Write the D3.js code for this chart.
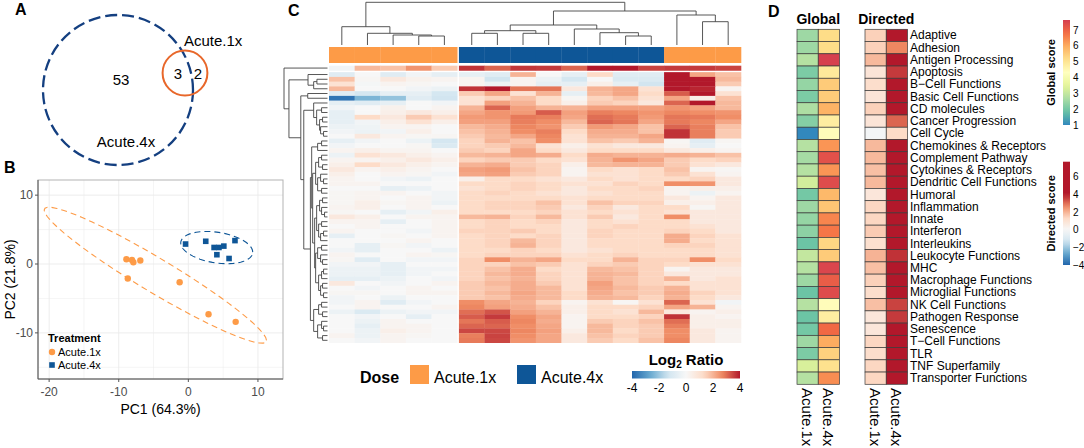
<!DOCTYPE html>
<html>
<head>
<meta charset="utf-8">
<script src="https://cdn.jsdelivr.net/npm/d3@7"></script>
<style>
  body { margin: 0; background: #fff; }
  text { font-family: "Liberation Sans", Arial, sans-serif; }
</style>
</head>
<body>
<svg id="fig" width="1084" height="448"></svg>
<script>
// ---------- data ----------
// A: venn counts
const vennOnly4x = 53, vennBoth = 3, vennOnly1x = 2;

// B: PCA scores
const pc1Acute1x = [-8.9, -8.1, -7.9, -6.9, -8.7, -1.25, 2.9, 6.8];
const pc2Acute1x = [0.7, 0.6, 0.25, 0.5, -2.1, -2.65, -7.3, -8.4];
const pc1Acute4x = [-0.4, 2.5, 3.7, 4.4, 5.1, 4.1, 5.85, 6.7];
const pc2Acute4x = [2.9, 3.3, 2.4, 2.4, 2.6, 1.35, 0.8, 3.4];
const pcTicks = [-20, -10, 0, 10];
const pc2Ticks = [-10, 0, 10];

// C: heatmap (rows = genes in dendrogram order, cols = samples in dendrogram order)
const sampleDose = ["Acute.1x","Acute.1x","Acute.1x","Acute.1x","Acute.1x",
  "Acute.4x","Acute.4x","Acute.4x","Acute.4x","Acute.4x","Acute.4x","Acute.4x","Acute.4x",
  "Acute.1x","Acute.1x","Acute.1x"];
const log2Ratio = [
  [-0.2,1.9,1.75,2.5,1.6,3.7,3.1,3.65,3.6,3.1,4.3,4.3,3.5,3.6,3.6,3.5],
  [-0.8,0.0,-0.8,-0.2,-0.6,-0.6,-0.8,2.0,0.0,-0.6,1.3,-0.8,-0.8,4.5,2.2,1.75],
  [1.75,0.1,0.7,0.3,0.2,0.2,-1.3,0.2,-0.4,-1.2,0.0,-1.0,-1.0,4.5,4.4,1.9],
  [1.0,-0.1,0.2,0.1,0.0,0.2,-0.4,0.2,-0.6,-0.6,0.4,-0.6,-1.3,4.5,4.4,1.6],
  [1.9,0.0,0.0,-0.2,-0.4,3.7,4.05,2.9,2.9,0.7,2.0,2.2,1.0,4.4,3.85,0.2],
  [-0.8,-1.2,-0.6,-0.6,-1.2,1.6,2.2,1.0,2.0,-0.6,1.9,2.2,1.3,3.2,4.0,1.0],
  [-3.7,-2.4,-2.1,-0.8,-1.3,1.0,1.45,1.75,1.3,0.1,1.45,1.75,1.0,2.2,0.4,1.75],
  [-0.6,-0.8,-0.6,0.0,-0.2,1.0,2.3,2.0,1.3,0.4,1.6,1.45,0.7,3.1,4.4,1.9],
  [-0.2,0.0,0.3,0.0,0.2,2.0,3.1,2.3,2.0,2.0,2.3,2.3,2.3,2.5,2.3,1.9],
  [-0.6,0.0,0.4,0.7,0.4,2.2,2.5,2.4,3.2,2.3,2.8,2.7,2.5,2.7,2.6,2.5],
  [-0.6,1.3,0.7,1.6,1.0,2.4,2.5,2.85,2.8,2.2,3.0,2.85,2.4,2.9,2.85,2.6],
  [-0.6,-0.2,0.4,1.0,0.4,2.3,2.3,2.8,2.6,1.9,3.1,2.9,2.2,2.85,2.7,2.2],
  [-0.4,-0.3,0.2,0.2,0.0,1.9,2.1,2.7,2.5,1.6,2.4,2.2,1.75,3.1,2.8,1.75],
  [-0.2,-0.4,-0.2,0.4,0.0,1.75,2.0,2.6,2.8,1.3,2.1,2.1,1.75,3.7,2.8,1.6],
  [0.0,0.7,0.2,0.1,0.1,1.6,1.9,2.2,2.7,1.0,2.0,2.0,2.2,3.7,2.8,1.6],
  [-0.6,-0.2,0.0,-0.4,-1.2,1.45,2.0,1.75,2.6,1.0,1.75,1.6,2.0,0.1,-0.8,0.1],
  [-0.2,0.0,0.0,0.1,-1.0,1.45,1.6,1.9,1.0,0.4,1.0,0.7,0.7,0.2,-0.6,0.0],
  [0.2,0.4,0.2,0.2,0.0,1.6,1.45,2.2,1.3,0.7,1.3,1.3,1.3,0.7,0.4,0.2],
  [-0.4,1.0,0.7,0.4,0.2,1.9,2.0,2.2,2.1,1.3,2.1,2.0,2.0,2.1,2.0,1.75],
  [0.2,0.2,0.4,0.7,0.4,1.45,1.6,1.6,1.3,1.0,2.0,2.5,2.2,1.6,1.3,1.45],
  [0.4,1.3,0.7,0.4,0.2,2.0,2.1,1.6,1.45,0.4,1.9,2.0,2.0,1.6,1.0,0.7],
  [0.7,0.2,0.4,0.2,0.0,2.3,2.4,1.75,1.45,0.2,1.3,1.0,1.3,1.75,0.2,0.1],
  [0.4,0.0,0.2,0.1,-0.2,2.2,2.3,1.6,1.45,0.2,1.0,1.0,1.3,1.6,1.0,0.2],
  [0.2,0.0,-0.2,-0.4,0.0,0.4,1.3,1.3,1.0,0.7,1.3,1.0,1.3,1.3,1.45,0.7],
  [0.2,0.2,0.0,0.0,0.0,1.3,1.3,1.45,1.3,1.0,1.0,1.45,1.3,2.6,2.5,0.7],
  [0.0,0.0,-0.6,-0.4,0.0,1.0,1.3,1.45,1.3,0.7,1.3,1.3,1.45,0.2,0.4,0.4],
  [0.1,0.2,0.2,0.0,-0.2,1.3,1.45,1.3,1.0,0.7,1.0,1.3,1.3,0.2,-0.4,0.2],
  [0.1,0.2,0.0,0.2,-0.2,1.3,1.3,1.3,1.3,1.0,1.3,1.3,1.3,0.7,0.2,0.7],
  [0.1,0.4,0.1,0.2,-0.4,1.3,1.45,1.45,1.75,1.0,1.75,1.45,1.45,0.4,0.4,0.7],
  [0.2,0.4,0.0,0.2,0.0,1.3,1.45,1.45,1.6,0.7,1.45,0.7,1.3,1.3,0.1,0.7],
  [0.1,0.0,-0.6,-0.2,0.4,1.3,1.3,1.3,1.45,1.0,1.3,1.0,1.3,1.0,0.7,0.7],
  [0.7,0.4,0.0,0.2,0.2,1.9,2.0,1.45,1.9,1.0,1.6,0.7,1.3,2.6,0.7,0.7],
  [0.2,0.2,-0.6,0.0,0.2,1.3,1.45,1.3,1.45,0.7,1.3,1.0,1.3,1.3,0.7,0.7],
  [0.0,0.2,0.0,0.0,0.2,1.3,1.45,1.3,1.3,0.7,1.3,1.45,1.3,1.3,1.0,0.7],
  [0.2,0.0,0.0,-0.2,0.2,1.45,1.45,1.6,1.3,0.7,1.45,1.3,1.3,1.45,1.3,0.7],
  [-0.6,0.0,0.1,0.0,0.2,1.3,1.45,1.3,1.45,0.7,1.45,1.3,1.3,2.1,1.45,1.0],
  [0.0,0.0,0.0,0.2,0.0,1.3,1.45,1.9,1.45,0.7,1.3,1.3,1.3,2.1,1.3,1.0],
  [0.0,-0.6,0.1,-0.2,0.0,1.3,1.45,2.0,1.45,0.7,1.3,1.3,1.3,1.45,1.45,1.0],
  [-0.2,-0.6,0.0,0.0,-0.4,1.3,1.3,1.45,1.3,0.7,1.0,1.3,1.3,1.3,1.3,1.0],
  [0.2,0.0,0.0,0.2,0.1,1.3,1.45,1.45,1.45,1.0,1.3,1.45,1.3,1.3,1.3,1.0],
  [0.1,-0.8,0.0,-0.2,-0.2,1.45,2.6,2.0,2.2,1.3,1.3,2.0,1.45,1.45,2.6,1.3],
  [-0.2,-0.2,-0.6,0.0,0.0,1.45,1.45,1.75,1.6,1.0,1.45,1.6,1.45,1.3,1.0,1.0],
  [-0.4,-0.4,-0.6,-0.2,-0.2,1.45,1.75,2.1,1.3,1.0,1.9,1.75,1.45,0.2,0.7,0.7],
  [-0.4,-0.4,-0.6,-0.2,0.0,1.45,1.9,2.1,1.45,1.0,2.0,1.9,1.45,0.7,0.7,0.7],
  [-0.6,-0.6,-0.4,0.0,-0.2,1.45,1.75,2.0,1.45,1.0,2.0,1.75,1.45,2.0,0.7,1.0],
  [0.7,0.0,-0.2,0.0,0.2,1.6,1.9,2.1,1.6,1.0,2.3,1.75,1.45,1.3,1.0,1.0],
  [0.0,-0.2,0.0,0.2,0.0,1.6,1.75,2.1,1.9,1.0,2.2,1.9,1.6,2.0,1.0,1.0],
  [0.1,0.1,0.0,0.2,0.2,1.6,1.9,2.2,1.9,1.3,2.1,1.75,1.6,2.1,1.45,1.0],
  [-0.2,0.0,-0.4,0.0,0.0,1.6,1.75,2.1,1.9,1.3,2.0,1.9,1.45,2.0,1.3,0.7],
  [-0.2,0.2,-0.8,-0.2,0.0,2.6,2.2,2.0,1.45,0.2,1.0,0.1,1.0,3.1,1.0,-0.2],
  [0.0,0.2,0.0,0.0,0.2,2.7,2.3,2.1,1.75,0.4,1.3,1.3,1.45,2.2,2.0,0.2],
  [-0.4,-1.0,-0.4,-0.2,-0.2,3.0,3.3,2.3,2.0,0.4,1.3,1.0,1.9,0.7,0.2,0.4],
  [0.0,-0.2,0.0,-0.6,0.0,3.2,3.6,2.6,2.2,0.2,1.3,1.3,1.45,3.7,0.4,0.2],
  [0.0,-0.4,0.2,0.0,0.0,2.9,3.2,2.7,2.1,0.2,1.6,1.45,1.75,3.0,0.4,0.4],
  [0.0,-0.6,0.2,0.2,0.0,3.1,3.1,2.6,2.2,0.2,1.9,1.45,1.6,2.8,0.4,0.4],
  [0.0,-0.4,0.4,0.2,0.0,3.45,3.45,2.7,2.3,0.4,1.9,1.3,1.6,2.6,0.7,0.2],
  [0.2,-0.4,0.2,0.1,0.0,2.8,3.5,2.6,2.2,0.7,1.75,1.45,1.6,2.6,0.7,0.2],
  [0.0,-0.2,0.2,0.0,0.0,2.85,3.45,2.5,2.2,0.7,1.6,1.3,1.75,2.7,0.7,0.2]
];
const ratioTicks = [-4, -2, 0, 2, 4];

// C: dendrograms, node = [height, left, right], leaf = index
const colTree = [42.7,
  [18.3, 0, [11.7, 1, [10, 2, [9, 3, 4]]]],
  [34,
    [20, [14.3, [11.7, 5, 6], [11.7, 7, 8]], [16, 9, [12.3, 10, [9, 11, 12]]]],
    [30, 13, [23.3, 14, 15]]]];

const rowGroupA = [14, 7, [11, [6, 8, 9], [8, [5, 10, 11], [7, 12, [4, 13, 14]]]]];
const rowGroupB = [12, [9, [6, 18, 19], [5, 20, 21]], [10, [7, 22, [4, 23, 24]], [6, 25, 26]]];
const rowGroupC = [11, [8, [5, 27, 28], [6, 29, [3, 30, 31]]], [9, [6, 32, 33], [7, [4, 34, 35], 36]]];
const rowGroupD = [12, [10, [6, 37, 38], [7, 39, [5, 40, 41]]], [9, [6, [4, 42, 43], 44], [7, [5, 45, 46], [4, 47, 48]]]];
const rowGroupE = [14, [9, [6, 49, 50], [5, 51, 52]], [10, [6, 53, [4, 54, 55]], [5, 56, 57]]];
const rowTree = [44, 0,
  [39,
    [19.7, 1, [14, [10.7, 2, 3], 4]],
    [27,
      [20, 5, 6],
      [24, rowGroupA,
        [17.3,
          [16, [10, [6, 15, 16], 17], [15, rowGroupB, [13, rowGroupC, rowGroupD]]],
          rowGroupE]]]]];

// D: pathway scores
const pathways = ["Adaptive","Adhesion","Antigen Processing","Apoptosis","B\u2212Cell Functions",
  "Basic Cell Functions","CD molecules","Cancer Progression","Cell Cycle","Chemokines & Receptors",
  "Complement Pathway","Cytokines & Receptors","Dendritic Cell Functions","Humoral","Inflammation",
  "Innate","Interferon","Interleukins","Leukocyte Functions","MHC","Macrophage Functions",
  "Microglial Functions","NK Cell Functions","Pathogen Response","Senescence","T\u2212Cell Functions",
  "TLR","TNF Superfamily","Transporter Functions"];
const globalAcute1x = [2.5,2.5,2.8,2.1,2.4,2.1,2.7,2.2,1.0,2.8,2.6,2.8,3.2,2.0,2.5,2.4,2.3,1.9,3.0,2.8,2.5,1.9,2.8,1.9,2.0,2.5,2.1,3.3,2.8];
const globalAcute4x = [5.2,5.2,7.6,4.9,5.5,5.5,5.9,4.8,4.4,6.3,7.3,6.3,7.4,5.8,5.6,6.5,6.7,5.3,5.5,7.5,7.1,7.4,4.4,4.8,6.9,6.0,5.4,5.1,6.4];
const directedAcute1x = [1.5,1.5,1.9,0.9,1.2,0.9,1.5,0.9,-0.15,1.9,1.9,1.8,1.9,0.8,1.4,1.4,1.6,1.1,2.0,1.8,1.5,1.2,1.8,0.8,0.8,1.4,1.2,1.4,1.4];
const directedAcute4x = [6.8,2.7,7.1,3.6,6.6,6.9,6.7,3.1,1.3,7.0,6.9,6.8,7.2,6.5,6.8,6.9,6.7,6.6,3.7,7.3,6.9,7.0,3.5,3.6,6.8,6.9,6.7,6.6,6.8];
const dColumns = ["Acute.1x", "Acute.4x"];
const globalTicks = [1, 2, 3, 4, 5, 6, 7];
const directedTicks = [-4, -2, 0, 2, 4, 6];

// ---------- setup ----------
const svg = d3.select("#fig");
const orange = "#fd9b47", blue = "#0e5697";
const doseColor = d => d === "Acute.1x" ? orange : blue;
const rdbu7 = ["#2166AC","#67A9CF","#D1E5F0","#F7F7F7","#FDDBC7","#EF8A62","#B2182B"];
const defs = svg.append("defs");

function panelLabel(t, x, y) {
  svg.append("text").attr("x", x).attr("y", y).text(t)
    .attr("font-size", 16).attr("font-weight", "bold");
}
panelLabel("A", 15, 15);
panelLabel("B", 4, 173);
panelLabel("C", 288, 16);
panelLabel("D", 768, 17);

// ---------- A: venn ----------
const gA = svg.append("g");
const rVenn = d3.scaleSqrt().domain([0, vennOnly4x + vennBoth]).range([0, 75]);
gA.append("circle").attr("cx", 118).attr("cy", 90).attr("r", rVenn(vennOnly4x + vennBoth))
  .attr("fill", "none").attr("stroke", "#143f80").attr("stroke-width", 2.3)
  .attr("stroke-dasharray", "12,5");
gA.append("circle").attr("cx", 185).attr("cy", 73).attr("r", rVenn(vennOnly1x + vennBoth))
  .attr("fill", "none").attr("stroke", "#e8672a").attr("stroke-width", 2);
[[vennOnly4x, 121, 79], [vennBoth, 178, 73], [vennOnly1x, 198, 73]].forEach(d => {
  gA.append("text").attr("x", d[1]).attr("y", d[2]).text(d[0])
    .attr("text-anchor", "middle").attr("dominant-baseline", "central").attr("font-size", 15);
});
gA.append("text").attr("x", 184).attr("y", 46).text("Acute.1x").attr("font-size", 15);
gA.append("text").attr("x", 126).attr("y", 147).text("Acute.4x").attr("font-size", 15)
  .attr("text-anchor", "middle");

// ---------- B: PCA ----------
const bL = 38, bR = 283, bT = 180, bB = 379;
const xB = d3.scaleLinear().domain([-21.6, 13.6]).range([bL, bR]);
const yB = d3.scaleLinear().domain([-16.7, 12.2]).range([bB, bT]);
const gB = svg.append("g");
gB.append("rect").attr("x", bL).attr("y", bT).attr("width", bR - bL).attr("height", bB - bT)
  .attr("fill", "#fff");
d3.range(-20, 15, 5).forEach(v => {
  gB.append("line").attr("x1", xB(v)).attr("x2", xB(v)).attr("y1", bT).attr("y2", bB)
    .attr("stroke", "#ebebeb").attr("stroke-width", v % 10 === 0 ? 0.9 : 0.5);
});
d3.range(-15, 15, 5).forEach(v => {
  gB.append("line").attr("y1", yB(v)).attr("y2", yB(v)).attr("x1", bL).attr("x2", bR)
    .attr("stroke", "#ebebeb").attr("stroke-width", v % 10 === 0 ? 0.9 : 0.5);
});
gB.append("rect").attr("x", bL).attr("y", bT).attr("width", bR - bL).attr("height", bB - bT)
  .attr("fill", "none").attr("stroke", "#b3b3b3");
gB.append("line").attr("x1", bL).attr("x2", bL).attr("y1", bT).attr("y2", bB).attr("stroke", "#555");
gB.append("line").attr("x1", bL).attr("x2", bR).attr("y1", bB).attr("y2", bB).attr("stroke", "#555");
pcTicks.forEach(v => {
  gB.append("line").attr("x1", xB(v)).attr("x2", xB(v)).attr("y1", bB).attr("y2", bB + 3).attr("stroke", "#555");
  gB.append("text").attr("x", xB(v)).attr("y", bB + 17).text(v).attr("text-anchor", "middle")
    .attr("font-size", 12).attr("fill", "#4d4d4d");
});
pc2Ticks.forEach(v => {
  gB.append("line").attr("x1", bL - 3).attr("x2", bL).attr("y1", yB(v)).attr("y2", yB(v)).attr("stroke", "#555");
  gB.append("text").attr("x", bL - 5).attr("y", yB(v)).text(v).attr("text-anchor", "end")
    .attr("dominant-baseline", "central").attr("font-size", 12).attr("fill", "#4d4d4d");
});
gB.append("text").attr("x", (bL + bR) / 2).attr("y", 414).text("PC1 (64.3%)")
  .attr("text-anchor", "middle").attr("font-size", 14);
gB.append("text").attr("transform", `translate(15,${(bT + bB) / 2}) rotate(-90)`).text("PC2 (21.8%)")
  .attr("text-anchor", "middle").attr("font-size", 14);

// robust t covariance (MASS::cov.trob) as used by stat_ellipse
function covTrob(pts) {
  const n = pts.length, p = 2, nu = 5;
  let loc = [d3.mean(pts, d => d[0]), d3.mean(pts, d => d[1])];
  let w = pts.map(() => 1), X;
  for (let it = 0; it < 25; it++) {
    const w0 = w.slice();
    X = pts.map(d => [d[0] - loc[0], d[1] - loc[1]]);
    const sw = d3.sum(w);
    let a = 0, b = 0, c = 0;
    X.forEach((x, i) => { a += w[i] * x[0] * x[0] / sw; b += w[i] * x[0] * x[1] / sw; c += w[i] * x[1] * x[1] / sw; });
    const det = a * c - b * b;
    w = X.map(x => (nu + p) / (nu + (c * x[0] * x[0] - 2 * b * x[0] * x[1] + a * x[1] * x[1]) / det));
    const sw2 = d3.sum(w);
    loc = [d3.sum(pts, (d, i) => w[i] * d[0]) / sw2, d3.sum(pts, (d, i) => w[i] * d[1]) / sw2];
    if (w.every((v, i) => Math.abs(v - w0[i]) < 0.01)) break;
  }
  let a = 0, b = 0, c = 0;
  X.forEach((x, i) => { a += w[i] * x[0] * x[0]; b += w[i] * x[0] * x[1]; c += w[i] * x[1] * x[1]; });
  return { center: loc, cov: [a / n, b / n, c / n] };
}
function ellipse(pts) {
  const { center, cov } = covTrob(pts);
  const r = Math.sqrt(2 * 4.737); // sqrt(2 * qf(0.95, 2, 7))
  const r11 = Math.sqrt(cov[0]), r12 = cov[1] / r11, r22 = Math.sqrt(cov[2] - r12 * r12);
  return d3.range(53).map(i => {
    const t = i * 2 * Math.PI / 52, u = Math.cos(t), v = Math.sin(t);
    return [center[0] + r * u * r11, center[1] + r * (u * r12 + v * r22)];
  });
}
const pts1x = pc1Acute1x.map((v, i) => [v, pc2Acute1x[i]]);
const pts4x = pc1Acute4x.map((v, i) => [v, pc2Acute4x[i]]);
const line = d3.line().x(d => xB(d[0])).y(d => yB(d[1]));
gB.append("path").attr("d", line(ellipse(pts1x))).attr("fill", "none")
  .attr("stroke", orange).attr("stroke-width", 1.1).attr("stroke-dasharray", "6,4");
gB.append("path").attr("d", line(ellipse(pts4x))).attr("fill", "none")
  .attr("stroke", blue).attr("stroke-width", 1.1).attr("stroke-dasharray", "6,4");
gB.selectAll(".p1").data(pts1x).join("circle")
  .attr("cx", d => xB(d[0])).attr("cy", d => yB(d[1])).attr("r", 3.2).attr("fill", orange);
gB.selectAll(".p4").data(pts4x).join("rect")
  .attr("x", d => xB(d[0]) - 2.8).attr("y", d => yB(d[1]) - 2.8)
  .attr("width", 5.6).attr("height", 5.6).attr("fill", blue);
gB.append("text").attr("x", 48).attr("y", 342).text("Treatment").attr("font-size", 11).attr("font-weight", "bold");
gB.append("circle").attr("cx", 52).attr("cy", 352).attr("r", 3.2).attr("fill", orange);
gB.append("rect").attr("x", 49.2).attr("y", 362.2).attr("width", 5.6).attr("height", 5.6).attr("fill", blue);
gB.append("text").attr("x", 58).attr("y", 356).text("Acute.1x").attr("font-size", 11);
gB.append("text").attr("x", 58).attr("y", 369).text("Acute.4x").attr("font-size", 11);

// ---------- C: heatmap ----------
const gC = svg.append("g");
const gap = 1.7;
const nCols = sampleDose.length, nRows = log2Ratio.length;
const colBand = d3.scaleBand().domain(d3.range(nCols)).range([329, 741 - gap]);
const rowBand = d3.scaleBand().domain(d3.range(nRows)).range([65.7, 342.7 - gap]);
const colX = j => colBand(j) + (j >= 5 ? gap : 0);
const rowY = i => rowBand(i) + (i >= 1 ? gap : 0);
const hmColor = d3.scaleLinear().domain(d3.range(7).map(i => -4 + i * 8 / 6)).range(rdbu7).clamp(true);

const cells = log2Ratio.flatMap((row, i) => row.map((v, j) => ({ i, j, v })));
gC.selectAll("rect.cell").data(cells).join("rect").attr("class", "cell")
  .attr("x", d => colX(d.j)).attr("y", d => rowY(d.i))
  .attr("width", colBand.bandwidth() + 0.3).attr("height", rowBand.bandwidth() + 0.3)
  .attr("fill", d => hmColor(d.v));
gC.selectAll("rect.anno").data(sampleDose).join("rect").attr("class", "anno")
  .attr("x", (d, j) => colX(j)).attr("y", 47)
  .attr("width", colBand.bandwidth() + 0.3).attr("height", 16)
  .attr("fill", d => doseColor(d));

function treeSegments(tree, leafPos) {
  const segs = [];
  function walk(node) {
    if (typeof node === "number") return { p: leafPos(node), h: 0 };
    const L = walk(node[1]), R = walk(node[2]), h = node[0];
    segs.push([L.p, L.h, L.p, h], [R.p, R.h, R.p, h], [L.p, h, R.p, h]);
    return { p: (L.p + R.p) / 2, h };
  }
  walk(tree);
  return segs;
}
const colH = d3.scaleLinear().domain([0, 42.7]).range([45, 2.3]);
gC.selectAll("line.ct").data(treeSegments(colTree, j => colX(j) + colBand.bandwidth() / 2)).join("line")
  .attr("x1", d => d[0]).attr("y1", d => colH(d[1])).attr("x2", d => d[2]).attr("y2", d => colH(d[3]))
  .attr("stroke", "#444").attr("stroke-width", 0.9);
const rowH = d3.scaleLinear().domain([0, 44]).range([327.5, 284]);
gC.selectAll("line.rt").data(treeSegments(rowTree, i => rowY(i) + rowBand.bandwidth() / 2)).join("line")
  .attr("y1", d => d[0]).attr("x1", d => rowH(d[1])).attr("y2", d => d[2]).attr("x2", d => rowH(d[3]))
  .attr("stroke", "#444").attr("stroke-width", 0.9);

// dose legend
gC.append("text").attr("x", 360).attr("y", 383).text("Dose").attr("font-size", 16).attr("font-weight", "bold");
[["Acute.1x", 410], ["Acute.4x", 517]].forEach(d => {
  gC.append("rect").attr("x", d[1]).attr("y", 365).attr("width", 19).attr("height", 19).attr("fill", doseColor(d[0]));
  gC.append("text").attr("x", d[1] + 24).attr("y", 383).text(d[0]).attr("font-size", 16);
});
// log2 ratio legend
const lgX = d3.scaleLinear().domain([-4, 4]).range([632, 740]);
const grad = defs.append("linearGradient").attr("id", "gradC");
d3.range(0, 1.0001, 0.05).forEach(t => grad.append("stop")
  .attr("offset", t).attr("stop-color", hmColor(-4 + 8 * t)));
gC.append("rect").attr("x", lgX(-4)).attr("y", 371).attr("width", lgX(4) - lgX(-4)).attr("height", 7.5)
  .attr("fill", "url(#gradC)");
ratioTicks.forEach(v => gC.append("text").attr("x", lgX(v)).attr("y", 392).text(v)
  .attr("text-anchor", "middle").attr("font-size", 12));
const lt = gC.append("text").attr("x", 686).attr("y", 365).attr("text-anchor", "middle")
  .attr("font-size", 15).attr("font-weight", "bold");
lt.append("tspan").text("Log");
lt.append("tspan").text("2").attr("font-size", 10).attr("dy", 3);
lt.append("tspan").text(" Ratio").attr("dy", -3);

// ---------- D: pathway heatmaps ----------
const gD = svg.append("g");
const dRow = d3.scaleBand().domain(d3.range(pathways.length)).range([29.3, 384.3]);
const globalX = d3.scaleBand().domain(dColumns).range([797, 839.5]);
const directedX = d3.scaleBand().domain(dColumns).range([865, 907.5]);
const spectral9 = ["#d53e4f","#f46d43","#fdae61","#fee08b","#ffffbf","#e6f598","#abdda4","#66c2a5","#3288bd"].reverse();
const globalColor = d3.scaleLinear().domain(d3.range(9).map(i => 1 + i * 6.64 / 8)).range(spectral9).clamp(true);
const directedColor = d3.scaleLinear().domain([-4, -2.67, -1.33, 0, 1.33, 2.67, 4, 7.7])
  .range(rdbu7.concat(["#B2182B"])).clamp(true);

function scoreBlock(xs, colorFn, series, title) {
  dColumns.forEach((c, k) => {
    gD.selectAll(null).data(series[k]).join("rect")
      .attr("x", xs(c)).attr("y", (d, i) => dRow(i))
      .attr("width", xs.bandwidth()).attr("height", dRow.bandwidth())
      .attr("fill", d => colorFn(d)).attr("stroke", "#3a3a3a").attr("stroke-width", 0.7);
    gD.append("text").attr("transform", `translate(${xs(c) + xs.bandwidth() / 2},388) rotate(90)`)
      .text(c).attr("font-size", 15).attr("dominant-baseline", "central");
  });
  const [a, b] = xs.range();
  gD.append("text").attr("x", (a + b) / 2).attr("y", 24).text(title).attr("text-anchor", "middle")
    .attr("font-size", 14).attr("font-weight", "bold");
}
scoreBlock(globalX, globalColor, [globalAcute1x, globalAcute4x], "Global");
scoreBlock(directedX, directedColor, [directedAcute1x, directedAcute4x], "Directed");
gD.selectAll("text.pw").data(pathways).join("text").attr("class", "pw")
  .attr("x", 910).attr("y", (d, i) => dRow(i) + dRow.bandwidth() / 2).text(d => d)
  .attr("dominant-baseline", "central").attr("font-size", 12);

function colorBar(id, colorFn, domain, y0, y1, ticks, title) {
  const s = d3.scaleLinear().domain(domain).range([y1, y0]);
  const g = defs.append("linearGradient").attr("id", id).attr("x1", 0).attr("y1", 1).attr("x2", 0).attr("y2", 0);
  d3.range(0, 1.0001, 0.05).forEach(t => g.append("stop").attr("offset", t)
    .attr("stop-color", colorFn(domain[0] + t * (domain[1] - domain[0]))));
  gD.append("rect").attr("x", 1063).attr("y", y0).attr("width", 7).attr("height", y1 - y0).attr("fill", `url(#${id})`);
  ticks.forEach(v => gD.append("text").attr("x", 1073).attr("y", s(v)).text(String(v).replace("-", "\u2212"))
    .attr("dominant-baseline", "central").attr("font-size", 10));
  gD.append("text").attr("transform", `translate(1055,${(y0 + y1) / 2}) rotate(-90)`).text(title)
    .attr("text-anchor", "middle").attr("font-size", 11).attr("font-weight", "bold");
}
colorBar("gradG", globalColor, [1, 7.64], 20, 125, globalTicks, "Global score");
colorBar("gradD", directedColor, [-4, 7.7], 161.7, 265, directedTicks, "Directed score");
</script>
</body>
</html>
